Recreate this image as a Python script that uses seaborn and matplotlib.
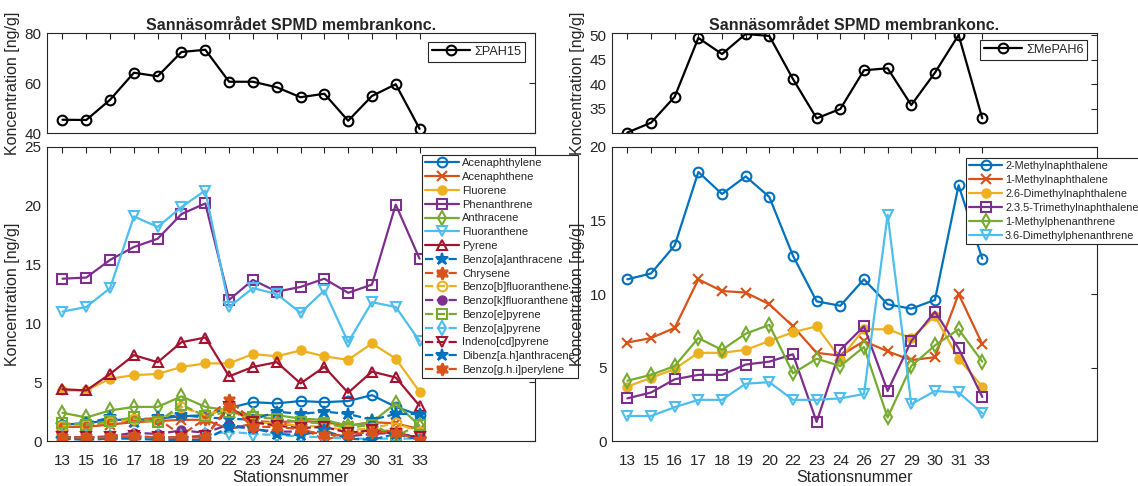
import matplotlib
matplotlib.use("Agg")
import matplotlib.pyplot as plt
import pandas as pd
import seaborn as sns

# ---- data -------------------------------------------------------------
stations = ["13", "15", "16", "17", "18", "19", "20", "22",
            "23", "24", "26", "27", "29", "30", "31", "33"]

sum_pah15 = [45.3, 45.2, 53.3, 64.1, 62.7, 72.4, 73.3, 60.5,
             60.5, 58.3, 54.3, 55.7, 44.9, 54.8, 59.5, 41.7]
sum_mepah6 = [30.2, 32.2, 37.5, 49.5, 46.2, 50.3, 49.9, 41.1,
              33.1, 35.0, 42.9, 43.3, 35.8, 42.4, 50.1, 33.1]

# individual PAHs
acenaphthylene = [1.4, 1.5, 1.8, 1.8, 1.9, 2.1, 2.2, 2.8, 3.3, 3.2, 3.4, 3.3, 3.4, 3.9, 2.9, 2.2]
acenaphthene = [1.2, 1.2, 1.4, 1.6, 1.7, 1.8, 1.8, 1.0, 1.5, 1.6, 1.7, 1.6, 1.3, 1.6, 1.5, 1.0]
fluorene = [4.3, 4.3, 5.3, 5.6, 5.7, 6.3, 6.6, 6.6, 7.4, 7.2, 7.7, 7.2, 6.9, 8.3, 7.0, 4.2]
phenanthrene = [13.8, 13.9, 15.4, 16.5, 17.2, 19.3, 20.2, 12.0, 13.7, 12.7, 13.1, 13.8, 12.6, 13.3, 20.1, 15.5]
anthracene = [2.4, 2.0, 2.6, 2.9, 2.9, 3.8, 2.9, 2.6, 2.2, 2.2, 1.9, 1.8, 1.3, 1.6, 3.2, 1.3]
fluoranthene = [11.0, 11.4, 13.0, 19.1, 18.2, 19.9, 21.3, 11.4, 13.0, 12.5, 10.9, 12.8, 8.4, 11.8, 11.4, 8.5]
pyrene = [4.4, 4.3, 5.7, 7.3, 6.7, 8.4, 8.8, 5.5, 6.3, 6.7, 4.9, 6.3, 4.1, 5.9, 5.4, 3.0]
benz_a_anthracene = [1.4, 1.5, 2.0, 1.6, 2.0, 2.2, 2.0, 1.9, 1.8, 2.5, 2.3, 2.5, 2.3, 1.8, 2.3, 2.3]
chrysene = [1.2, 1.3, 1.6, 1.9, 1.9, 0.5, 1.9, 3.5, 1.7, 1.6, 1.2, 0.1, 0.6, 1.0, 0.8, 0.2]
benzo_b_fluoranthene = [1.3, 1.4, 1.6, 1.9, 1.6, 2.9, 2.2, 2.8, 1.6, 1.5, 1.3, 1.2, 0.9, 1.1, 1.5, 0.8]
benzo_k_fluoranthene = [0.3, 0.3, 0.4, 0.7, 0.6, 0.9, 0.7, 1.4, 1.0, 0.8, 0.8, 0.6, 0.4, 0.6, 0.7, 0.3]
benzo_e_pyrene = [1.5, 1.4, 1.7, 2.0, 1.6, 3.1, 2.1, 2.5, 2.0, 1.9, 1.6, 1.5, 1.1, 1.4, 0.4, 1.4]
benzo_a_pyrene = [0.3, 0.3, 0.3, 0.3, 0.3, 0.3, 0.5, 0.8, 0.6, 0.5, 0.4, 0.3, 0.2, 0.2, 0.2, 0.2]
indeno_cd_pyrene = [0.3, 0.3, 0.3, 0.4, 0.3, 0.3, 0.4, 2.9, 1.6, 1.3, 1.1, 1.2, 0.7, 0.9, 0.6, 0.3]
dibenz_ah_anthracene = [0.2, 0.1, 0.2, 0.2, 0.1, 0.1, 0.1, 1.2, 1.1, 0.6, 0.5, 0.9, 0.2, 0.1, 0.6, 0.1]
benzo_ghi_perylene = [0.3, 0.3, 0.3, 0.4, 0.3, 0.3, 0.3, 3.0, 1.2, 1.2, 1.0, 0.5, 0.5, 0.8, 0.7, 0.1]

# methylated PAHs
methylnaphthalene_2 = [11.0, 11.4, 13.3, 18.3, 16.8, 18.0, 16.6, 12.6, 9.5, 9.2, 11.0, 9.3, 9.0, 9.6, 17.4, 12.4]
methylnaphthalene_1 = [6.7, 7.0, 7.7, 11.0, 10.2, 10.1, 9.3, 7.8, 6.0, 5.8, 6.8, 6.1, 5.5, 5.7, 10.0, 6.6]
dimethylnaphthalene_26 = [3.7, 4.3, 4.9, 6.0, 6.0, 6.2, 6.8, 7.4, 7.8, 5.6, 7.6, 7.6, 7.0, 8.5, 5.6, 3.7]
trimethylnaphthalene_235 = [2.9, 3.3, 4.2, 4.5, 4.5, 5.2, 5.4, 5.9, 1.3, 6.2, 7.8, 3.4, 6.8, 8.8, 6.3, 3.0]
methylphenanthrene_1 = [4.1, 4.5, 5.1, 7.0, 6.2, 7.3, 7.9, 4.6, 5.6, 5.1, 6.4, 1.6, 5.1, 6.5, 7.6, 5.4]
dimethylphenanthrene_36 = [1.7, 1.7, 2.3, 2.8, 2.8, 3.9, 4.0, 2.8, 2.8, 2.9, 3.2, 15.4, 2.5, 3.4, 3.3, 1.9]

pah_names = ["Acenaphthylene", "Acenaphthene", "Fluorene", "Phenanthrene",
             "Anthracene", "Fluoranthene", "Pyrene", "Benzo[a]anthracene",
             "Chrysene", "Benzo[b]fluoranthene", "Benzo[k]fluoranthene",
             "Benzo[e]pyrene", "Benzo[a]pyrene", "Indeno[cd]pyrene",
             "Dibenz[a.h]anthracene", "Benzo[g.h.i]perylene"]
pah_values = [acenaphthylene, acenaphthene, fluorene, phenanthrene,
              anthracene, fluoranthene, pyrene, benz_a_anthracene,
              chrysene, benzo_b_fluoranthene, benzo_k_fluoranthene,
              benzo_e_pyrene, benzo_a_pyrene, indeno_cd_pyrene,
              dibenz_ah_anthracene, benzo_ghi_perylene]

mepah_names = ["2-Methylnaphthalene", "1-Methylnaphthalene",
               "2.6-Dimethylnaphthalene", "2.3.5-Trimethylnaphthalene",
               "1-Methylphenanthrene", "3.6-Dimethylphenanthrene"]
mepah_values = [methylnaphthalene_2, methylnaphthalene_1, dimethylnaphthalene_26,
                trimethylnaphthalene_235, methylphenanthrene_1, dimethylphenanthrene_36]

# ---- style ------------------------------------------------------------
sns.set_theme(style="white")
plt.rcParams["font.family"] = ["Liberation Sans", "DejaVu Sans"]
INK = "#262626"
plt.rcParams.update({
    "axes.edgecolor": INK, "axes.linewidth": 0.8,
    "xtick.color": INK, "ytick.color": INK,
    "xtick.labelcolor": INK, "ytick.labelcolor": INK,
    "axes.labelcolor": INK, "text.color": INK,
})

palette = [(0.000, 0.447, 0.741), (0.850, 0.325, 0.098), (0.929, 0.694, 0.125),
           (0.494, 0.184, 0.556), (0.466, 0.674, 0.188), (0.301, 0.745, 0.933),
           (0.635, 0.078, 0.184)]
hexagram = (6, 1, 0)
markers = ["o", "x", "o", "s", "d", "v", "^", "*",
           hexagram, "o", "o", "s", "d", "v", "*", hexagram]
filled = [False, False, True, False, False, False, False, True,
          True, False, True, False, False, False, True, True]

pos = list(range(1, len(stations) + 1))
W, H = 1138, 486
fig = plt.figure(figsize=(W / 100, H / 100), dpi=100)


def box(x0, y0, x1, y1):
    return [x0 / W, 1 - y1 / H, (x1 - x0) / W, (y1 - y0) / H]


def draw(ax, y, color, marker, solid, is_filled, label, ms=7):
    df = pd.DataFrame({"pos": pos, "val": y})
    sns.lineplot(data=df, x="pos", y="val", ax=ax, color=color,
                 linestyle="-" if solid else "--", linewidth=1.6,
                 marker=marker, markersize=ms if marker != "o" or not is_filled else 6,
                 markeredgecolor=color, markeredgewidth=1.5,
                 markerfacecolor=color if is_filled else "none",
                 estimator=None, sort=False, errorbar=None, label=label,
                 legend=False)


def style_axes(ax, show_xlabels):
    ax.set_xlim(0.35, 20.85)
    ax.set_xticks(pos)
    ax.set_xticklabels(stations if show_xlabels else [])
    ax.tick_params(direction="in", top=True, right=True, length=4, width=0.8,
                   labelsize=11, pad=4)
    ax.tick_params(axis="x", pad=9)
    ax.set_xlabel("Stationsnummer" if show_xlabels else "", fontsize=11.5, labelpad=2)
    ax.set_ylabel("Koncentration [ng/g]", fontsize=11.5, labelpad=3)
    for s in ax.spines.values():
        s.set_visible(True)


def legend(ax, anchor, fontsize, spacing):
    leg = ax.legend(loc="upper left", bbox_to_anchor=(anchor[0] / W, 1 - anchor[1] / H),
                    bbox_transform=fig.transFigure, fontsize=fontsize,
                    frameon=True, fancybox=False, framealpha=1, edgecolor=INK,
                    borderaxespad=0, handlelength=3.0, handletextpad=0.3,
                    labelspacing=spacing, borderpad=0.3, numpoints=1)
    leg.get_frame().set_linewidth(0.8)
    return leg


title = "Sannäsområdet SPMD membrankonc."

# ---- left: PAH ----------------------------------------------------------
ax_lt = fig.add_axes(box(47, 33, 535, 133))
draw(ax_lt, sum_pah15, "black", "o", True, False, "\u03a3PAH15")
ax_lt.set_ylim(40, 80)
ax_lt.set_yticks([40, 60, 80])
style_axes(ax_lt, False)
ax_lt.set_title(title, fontsize=11.5, fontweight="bold", pad=1)
legend(ax_lt, (428, 42), 9.2, 0.3)

ax_lb = fig.add_axes(box(47, 147, 535, 441))
for i, (name, vals) in enumerate(zip(pah_names, pah_values)):
    draw(ax_lb, vals, palette[i % 7], markers[i], i < 7, filled[i], name,
         ms=9 if markers[i] in ("*", hexagram) else 7)
ax_lb.set_ylim(0, 25)
ax_lb.set_yticks([0, 5, 10, 15, 20, 25])
style_axes(ax_lb, True)
legend(ax_lb, (422, 155), 8, 0.34)

# ---- right: methyl-PAH ----------------------------------------------------
ax_rt = fig.add_axes(box(612, 33, 1097, 133))
draw(ax_rt, sum_mepah6, "black", "o", True, False, "\u03a3MePAH6")
ax_rt.set_ylim(30.1, 50.5)
ax_rt.set_yticks([35, 40, 45, 50])
style_axes(ax_rt, False)
ax_rt.set_title(title, fontsize=11.5, fontweight="bold", pad=1)
legend(ax_rt, (980, 40), 9.2, 0.3)

ax_rb = fig.add_axes(box(612, 147, 1097, 441))
for i, (name, vals) in enumerate(zip(mepah_names, mepah_values)):
    draw(ax_rb, vals, palette[i], markers[i], True, filled[i], name)
ax_rb.set_ylim(0, 20)
ax_rb.set_yticks([0, 5, 10, 15, 20])
style_axes(ax_rb, True)
legend(ax_rb, (966, 158), 7.8, 0.36)

fig.savefig("out.png", dpi=100)
